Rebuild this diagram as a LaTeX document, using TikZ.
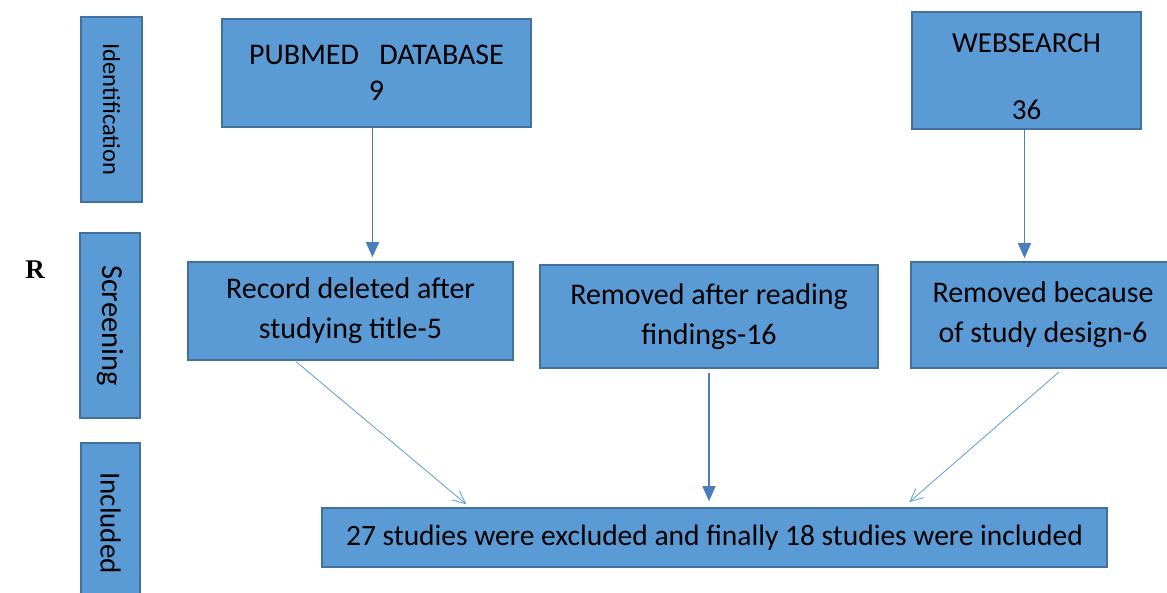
\documentclass[tikz,border=0pt]{standalone}
\usepackage{fontspec}
\setmainfont{Carlito}
\newfontfamily\rfont{Liberation Serif}
\usetikzlibrary{arrows.meta,calc}
\definecolor{boxfill}{HTML}{5B9BD5}
\definecolor{boxline}{HTML}{41719C}
\definecolor{arrdark}{HTML}{4A7EBB}
\definecolor{arrthin}{HTML}{5B9BD5}
\begin{document}
\begin{tikzpicture}[x=1pt,y=-1pt,
  box/.style={draw=boxline, fill=boxfill, line width=1.6pt, inner sep=0pt, align=center, text=black},
  side/.style={box, rotate=-90},
  fat/.style={draw=arrdark, line width=1.4pt, -{Triangle[length=15pt,width=13pt]}},
  thin/.style={draw=arrthin, line width=0.8pt, -{Straight Barb[length=13pt,width=12pt,line width=0.8pt]}},
  f30/.style={font=\fontsize{30}{40}\selectfont},
]
\useasboundingbox (0,0) rectangle (1167,592);
\clip (0,0) rectangle (1167,592);

% stage labels
\node[side, minimum width=185pt, minimum height=61pt, font=\fontsize{24.5}{28}\selectfont] (ident) at (111.5,109.5) {Identification};
\node[side, minimum width=185pt, minimum height=60pt, font=\fontsize{30.5}{34}\selectfont] (screen) at (110,325.5) {Screening};
\node[side, minimum width=160pt, minimum height=59pt, font=\fontsize{29}{32}\selectfont] (incl) at (110.5,523) {Included};
\node[font=\rfont\bfseries\fontsize{27}{30}\selectfont] (r) at (35,270) {R};

% boxes
\node[box, minimum width=309pt, minimum height=108pt, font=\fontsize{30}{36}\selectfont] (pub) at (376.5,73) {PUBMED\ \ \ DATABASE\\9};
\node[box, minimum width=229pt, minimum height=117pt, font=\fontsize{29}{33.5}\selectfont] (web) at (1026.5,70.5) {\rule{0pt}{31pt}WEBSEARCH\\ \\36};
\node[box, minimum width=325pt, minimum height=98pt, f30] (rec) at (350.5,311) {Record deleted after\\studying title-5};
\node[box, minimum width=338pt, minimum height=103pt, f30] (rem) at (709,316.5) {Removed after reading\\findings-16};
\node[box, minimum width=264pt, minimum height=106pt, f30] (des) at (1043,315) {Removed because\\of study design-6};
\node[box, minimum width=785pt, minimum height=59pt, font=\fontsize{29.5}{32}\selectfont] (fin) at (714.5,537.5) {27 studies were excluded and finally 18 studies were included};

% connectors
\draw[fat] ([xshift=-4pt]pub.south) -- ([xshift=-4pt,yshift=4pt]pub.south |- rec.north);
\draw[fat] ([xshift=-2pt]web.south) -- ([xshift=-2pt,yshift=3pt]web.south |- des.north);
\draw[fat] ([yshift=-4pt]rem.south) -- ([yshift=6pt]rem.south |- fin.north);
\draw[thin] ([xshift=109pt,yshift=-1pt]rec.south west) -- ([xshift=145pt,yshift=3pt]fin.north west);
\draw[thin] ([xshift=149pt,yshift=-3pt]des.south west) -- ([xshift=588pt,yshift=5pt]fin.north west);
\end{tikzpicture}
\end{document}
